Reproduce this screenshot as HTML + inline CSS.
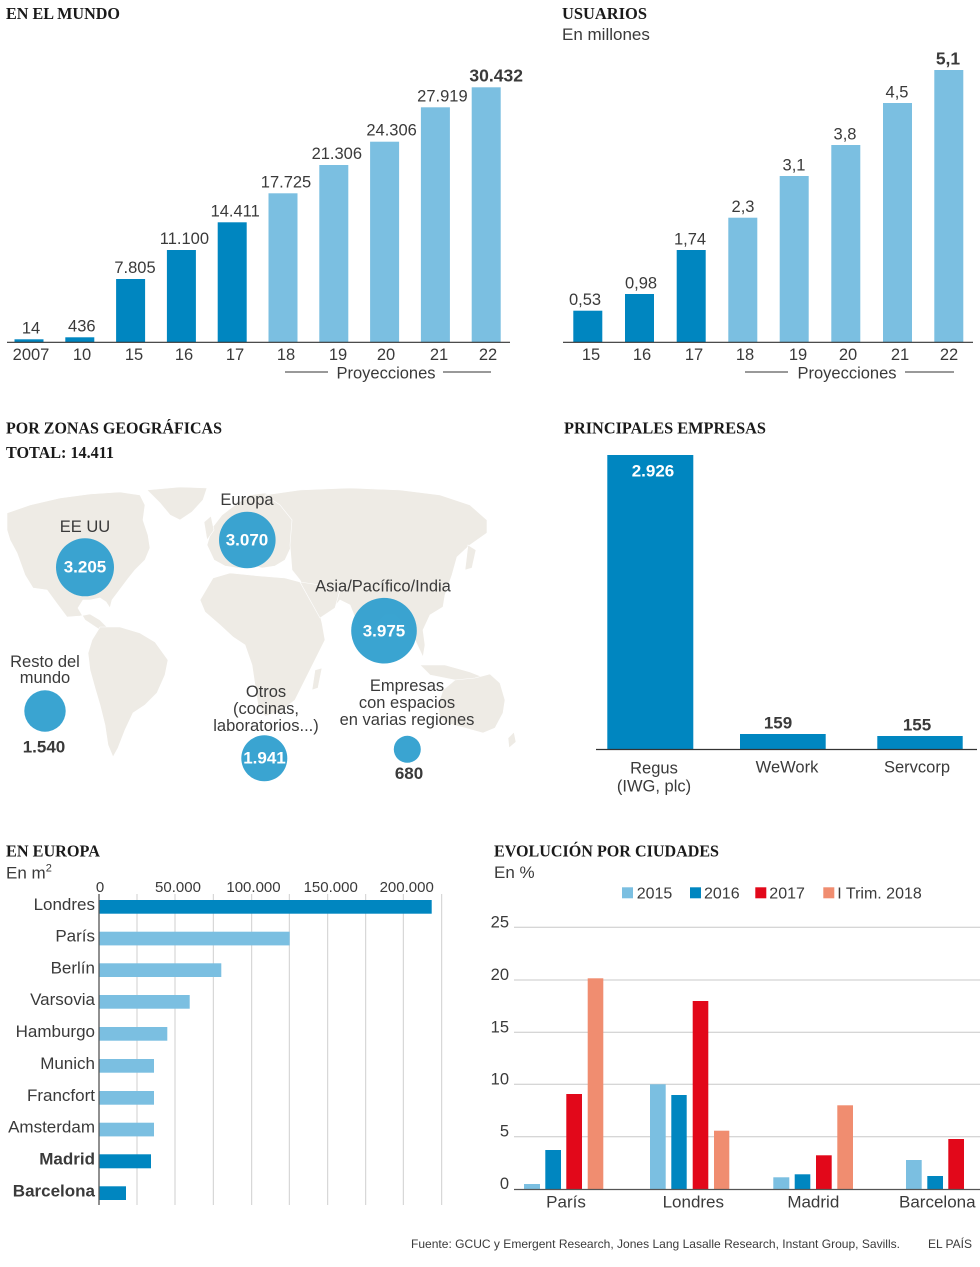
<!DOCTYPE html>
<html>
<head>
<meta charset="utf-8">
<style>
  html,body{margin:0;padding:0;background:#fff;}
  svg{display:block;}
  text{font-family:"Liberation Sans",Arial,sans-serif;fill:#3a3a3a;}
  .t{font-family:"Liberation Serif","Times New Roman",serif;font-weight:bold;fill:#1a1a1a;font-size:17px;}
  .v{font-size:16.5px;}
  .b{font-weight:bold;}
  .w{fill:#fff;font-weight:bold;font-size:17px;}
</style>
</head>
<body>
<svg width="980" height="1267" viewBox="0 0 980 1267" xmlns="http://www.w3.org/2000/svg">
<rect width="980" height="1267" fill="#fff"/>

<!-- ============ EN EL MUNDO ============ -->
<text class="t" x="6" y="19" textLength="114" lengthAdjust="spacingAndGlyphs">EN EL MUNDO</text>
<g>
  <rect x="14.5" y="339.3" width="29" height="2.7" fill="#0086c0"/>
  <rect x="65.3" y="337.3" width="29" height="4.7" fill="#0086c0"/>
  <rect x="116.1" y="279" width="29" height="63" fill="#0086c0"/>
  <rect x="166.9" y="250" width="29" height="92" fill="#0086c0"/>
  <rect x="217.7" y="222.3" width="29" height="119.7" fill="#0086c0"/>
  <rect x="268.5" y="193.3" width="29" height="148.7" fill="#7bbfe1"/>
  <rect x="319.3" y="165" width="29" height="177" fill="#7bbfe1"/>
  <rect x="370.1" y="141.7" width="29" height="200.3" fill="#7bbfe1"/>
  <rect x="420.9" y="107.3" width="29" height="234.7" fill="#7bbfe1"/>
  <rect x="471.7" y="87.3" width="29" height="254.7" fill="#7bbfe1"/>
</g>
<line x1="7" y1="342.3" x2="510" y2="342.3" stroke="#333" stroke-width="1.2"/>
<g class="v" text-anchor="middle">
  <text x="31" y="333.3">14</text>
  <text x="81.8" y="331.3">436</text>
  <text x="135" y="273">7.805</text>
  <text x="184.4" y="244">11.100</text>
  <text x="235.2" y="216.3">14.411</text>
  <text x="286" y="187.3">17.725</text>
  <text x="336.8" y="159">21.306</text>
  <text x="391.6" y="135.7">24.306</text>
  <text x="442.4" y="101.3">27.919</text>
  <text x="496.2" y="81.3" class="b" style="font-size:17.5px">30.432</text>
</g>
<g class="v" text-anchor="middle">
  <text x="31" y="360">2007</text>
  <text x="82" y="360">10</text>
  <text x="134" y="360">15</text>
  <text x="184" y="360">16</text>
  <text x="235" y="360">17</text>
  <text x="286" y="360">18</text>
  <text x="338" y="360">19</text>
  <text x="386" y="360">20</text>
  <text x="439" y="360">21</text>
  <text x="488" y="360">22</text>
  <text x="386" y="378.5">Proyecciones</text>
</g>
<line x1="285" y1="372" x2="328" y2="372" stroke="#333" stroke-width="1"/>
<line x1="443" y1="372" x2="491" y2="372" stroke="#333" stroke-width="1"/>

<!-- ============ USUARIOS ============ -->
<text class="t" x="562" y="19" textLength="85" lengthAdjust="spacingAndGlyphs">USUARIOS</text>
<text x="562" y="40" style="font-size:17px">En millones</text>
<g>
  <rect x="573.3" y="310.7" width="29" height="31.3" fill="#0086c0"/>
  <rect x="625" y="294" width="29" height="48" fill="#0086c0"/>
  <rect x="676.7" y="250" width="29" height="92" fill="#0086c0"/>
  <rect x="728.3" y="217.7" width="29" height="124.3" fill="#7bbfe1"/>
  <rect x="779.7" y="176" width="29" height="166" fill="#7bbfe1"/>
  <rect x="831.3" y="145" width="29" height="197" fill="#7bbfe1"/>
  <rect x="883" y="103" width="29" height="239" fill="#7bbfe1"/>
  <rect x="934.3" y="70" width="29" height="272" fill="#7bbfe1"/>
</g>
<line x1="563" y1="342.3" x2="973" y2="342.3" stroke="#333" stroke-width="1.2"/>
<g class="v" text-anchor="middle">
  <text x="585" y="305">0,53</text>
  <text x="641" y="288.3">0,98</text>
  <text x="690" y="244.3">1,74</text>
  <text x="743" y="212">2,3</text>
  <text x="794" y="170.3">3,1</text>
  <text x="845" y="139.3">3,8</text>
  <text x="897" y="97.3">4,5</text>
  <text x="948" y="64.3" class="b" style="font-size:17.5px">5,1</text>
</g>
<g class="v" text-anchor="middle">
  <text x="591" y="360">15</text>
  <text x="642" y="360">16</text>
  <text x="694" y="360">17</text>
  <text x="745" y="360">18</text>
  <text x="798" y="360">19</text>
  <text x="848" y="360">20</text>
  <text x="900" y="360">21</text>
  <text x="949" y="360">22</text>
  <text x="847" y="378.5">Proyecciones</text>
</g>
<line x1="745" y1="372" x2="788" y2="372" stroke="#333" stroke-width="1"/>
<line x1="905" y1="372" x2="954" y2="372" stroke="#333" stroke-width="1"/>

<!-- ============ POR ZONAS GEOGRÁFICAS ============ -->
<text class="t" x="6" y="433.3" textLength="216" lengthAdjust="spacingAndGlyphs">POR ZONAS GEOGRÁFICAS</text>
<text class="t" x="6" y="458" textLength="108" lengthAdjust="spacingAndGlyphs">TOTAL: 14.411</text>

<g fill="#eeebe5" stroke="#fff" stroke-width="0.6">
  <!-- North America -->
  <path d="M7,513 L30,505 L60,498 L90,494 L120,492 L140,495 L145,505 L143,520 L148,535 L150,548 L145,560 L135,570 L127,580 L118,592 L112,600 L110,608 L106,602 L100,598 L90,600 L83,600 L78,608 L85,620 L100,630 L108,628 L100,620 L90,614 L80,616 L67,617 L58,605 L47,590 L33,588 L25,575 L17,553 L10,540 L7,530 Z"/>
  <!-- Greenland -->
  <path d="M147,490 L180,487 L207,488 L203,500 L192,512 L180,520 L170,515 L160,503 Z"/>
  <!-- South America -->
  <path d="M100,627 L120,627 L140,633 L155,642 L168,660 L165,675 L157,693 L145,705 L133,713 L125,730 L118,748 L113,757 L108,745 L105,725 L100,705 L95,688 L90,670 L88,653 L92,640 Z"/>
  <!-- Europe -->
  <path d="M207,545 L212,528 L222,515 L235,505 L250,495 L265,493 L278,498 L290,508 L295,520 L292,545 L285,560 L275,566 L262,568 L250,565 L238,568 L225,566 L214,560 Z"/>
  <path d="M204,522 L211,516 L214,530 L207,540 Z"/>
  <!-- Asia -->
  <path d="M265,495 L300,490 L350,488 L400,490 L440,495 L470,505 L487,520 L487,533 L470,545 L457,557 L452,575 L445,595 L443,607 L430,615 L423,630 L425,645 L423,657 L415,640 L405,625 L395,615 L385,615 L375,625 L367,637 L358,625 L350,605 L340,600 L330,612 L315,605 L305,590 L300,580 L292,570 L290,545 L292,520 L280,505 Z"/>
  <!-- Africa -->
  <path d="M213,578 L230,573 L260,576 L285,578 L300,582 L310,600 L320,615 L322,623 L325,640 L315,660 L305,680 L295,700 L280,712 L265,716 L258,705 L255,685 L252,665 L245,645 L233,637 L220,625 L205,612 L200,600 Z"/>
  <!-- Arabia -->
  <path d="M300,582 L320,585 L340,590 L335,608 L320,618 L310,600 Z"/>
  <!-- Madagascar -->
  <path d="M315,670 L322,668 L318,688 L312,690 Z"/>
  <!-- Indonesia -->
  <path d="M420,665 L445,665 L470,672 L490,680 L480,685 L455,680 L430,675 Z"/>
  <!-- Japan -->
  <path d="M468,545 L476,550 L472,568 L465,570 Z"/>
  <!-- Australia -->
  <path d="M443,690 L455,680 L475,678 L490,674 L500,683 L505,700 L503,713 L495,728 L483,733 L465,728 L450,724 L440,718 L438,705 Z"/>
  <path d="M508,738 L514,732 L516,742 L509,748 Z"/>
</g>

<g fill="#2f9fcf" fill-opacity="0.95">
  <circle cx="85" cy="567.3" r="29"/>
  <circle cx="247.3" cy="540" r="28.3"/>
  <circle cx="384" cy="630.7" r="32.8"/>
  <circle cx="45" cy="711" r="20.7"/>
  <circle cx="264.3" cy="758.3" r="23"/>
  <circle cx="407.3" cy="749.3" r="13.5"/>
</g>
<g text-anchor="middle" style="font-size:16.5px">
  <text x="85" y="532">EE UU</text>
  <text x="247" y="505">Europa</text>
  <text x="383" y="591.7">Asia/Pacífico/India</text>
  <text x="45" y="667">Resto del</text>
  <text x="45" y="683">mundo</text>
  <text x="266" y="697">Otros</text>
  <text x="266" y="714">(cocinas,</text>
  <text x="266" y="731">laboratorios...)</text>
  <text x="407" y="691">Empresas</text>
  <text x="407" y="708">con espacios</text>
  <text x="407" y="725">en varias regiones</text>
  <text class="b" x="44" y="752.7" style="font-size:17px">1.540</text>
  <text class="b" x="409" y="779" style="font-size:17px">680</text>
  <text class="w" x="85" y="572.5">3.205</text>
  <text class="w" x="247" y="545.7">3.070</text>
  <text class="w" x="384" y="636.7">3.975</text>
  <text class="w" x="264.5" y="763.3">1.941</text>
</g>

<!-- ============ PRINCIPALES EMPRESAS ============ -->
<text class="t" x="564" y="433.3" textLength="202" lengthAdjust="spacingAndGlyphs">PRINCIPALES EMPRESAS</text>
<rect x="607.3" y="455" width="86" height="294.3" fill="#0086c0"/>
<rect x="740" y="734" width="85.7" height="15.3" fill="#0086c0"/>
<rect x="877.3" y="736" width="85.4" height="13.3" fill="#0086c0"/>
<line x1="596" y1="749.5" x2="977" y2="749.5" stroke="#333" stroke-width="1.2"/>
<g text-anchor="middle">
  <text class="w" x="653" y="476.7">2.926</text>
  <text class="b" x="778" y="728.3" style="font-size:17px">159</text>
  <text class="b" x="917" y="730.7" style="font-size:17px">155</text>
  <text x="654" y="773.3" style="font-size:16.5px">Regus</text>
  <text x="654" y="791.5" style="font-size:16.5px">(IWG, plc)</text>
  <text x="787" y="772.7" style="font-size:16.5px">WeWork</text>
  <text x="917" y="772.7" style="font-size:16.5px">Servcorp</text>
</g>

<!-- ============ EN EUROPA ============ -->
<text class="t" x="6" y="856.7" textLength="94" lengthAdjust="spacingAndGlyphs">EN EUROPA</text>
<text x="6" y="878.3" style="font-size:17px">En m<tspan dy="-7" style="font-size:11px">2</tspan></text>
<g stroke="#cfcfcf" stroke-width="1">
  <line x1="137" y1="894" x2="137" y2="1205"/>
  <line x1="175" y1="894" x2="175" y2="1205"/>
  <line x1="213.3" y1="894" x2="213.3" y2="1205"/>
  <line x1="251.7" y1="894" x2="251.7" y2="1205"/>
  <line x1="289.3" y1="894" x2="289.3" y2="1205"/>
  <line x1="327.7" y1="894" x2="327.7" y2="1205"/>
  <line x1="365.7" y1="894" x2="365.7" y2="1205"/>
  <line x1="403.3" y1="894" x2="403.3" y2="1205"/>
  <line x1="441.7" y1="894" x2="441.7" y2="1205"/>
</g>
<g text-anchor="middle" style="font-size:15px">
  <text x="100" y="892">0</text>
  <text x="178" y="892">50.000</text>
  <text x="253.5" y="892">100.000</text>
  <text x="330.7" y="892">150.000</text>
  <text x="406.7" y="892">200.000</text>
</g>
<g>
  <rect x="99" y="900" width="332.7" height="13.7" fill="#0086c0"/>
  <rect x="99" y="931.7" width="190.7" height="13.7" fill="#7bbfe1"/>
  <rect x="99" y="963.3" width="122.3" height="13.7" fill="#7bbfe1"/>
  <rect x="99" y="995" width="90.7" height="13.7" fill="#7bbfe1"/>
  <rect x="99" y="1027" width="68.3" height="13.7" fill="#7bbfe1"/>
  <rect x="99" y="1059" width="55" height="13.7" fill="#7bbfe1"/>
  <rect x="99" y="1091" width="55" height="13.7" fill="#7bbfe1"/>
  <rect x="99" y="1122.7" width="55" height="13.7" fill="#7bbfe1"/>
  <rect x="99" y="1154.3" width="52" height="14" fill="#0086c0"/>
  <rect x="99" y="1186.3" width="27" height="13.7" fill="#0086c0"/>
</g>
<line x1="99" y1="894" x2="99" y2="1205" stroke="#555" stroke-width="1.3"/>
<g text-anchor="end" style="font-size:17px">
  <text x="95" y="910">Londres</text>
  <text x="95" y="941.7">París</text>
  <text x="95" y="973.3">Berlín</text>
  <text x="95" y="1005">Varsovia</text>
  <text x="95" y="1037">Hamburgo</text>
  <text x="95" y="1069">Munich</text>
  <text x="95" y="1101">Francfort</text>
  <text x="95" y="1132.7">Amsterdam</text>
  <text x="95" y="1164.5" class="b">Madrid</text>
  <text x="95" y="1196.5" class="b">Barcelona</text>
</g>

<!-- ============ EVOLUCIÓN POR CIUDADES ============ -->
<text class="t" x="494" y="856.7" textLength="225" lengthAdjust="spacingAndGlyphs">EVOLUCIÓN POR CIUDADES</text>
<text x="494" y="878" style="font-size:17px">En %</text>
<g style="font-size:16px">
  <rect x="622" y="887.3" width="11" height="11" fill="#7bbfe1"/>
  <text x="636.7" y="898.3">2015</text>
  <rect x="690" y="887.3" width="11" height="11" fill="#0086c0"/>
  <text x="704" y="898.3">2016</text>
  <rect x="755.3" y="887.3" width="11" height="11" fill="#e2081a"/>
  <text x="769.3" y="898.3">2017</text>
  <rect x="823.3" y="887.3" width="11" height="11" fill="#f08d70"/>
  <text x="837.3" y="898.3">I Trim. 2018</text>
</g>
<g stroke="#c8c8c8" stroke-width="1">
  <line x1="514" y1="927.3" x2="980" y2="927.3"/>
  <line x1="514" y1="980" x2="980" y2="980"/>
  <line x1="514" y1="1032.3" x2="980" y2="1032.3"/>
  <line x1="514" y1="1084.3" x2="980" y2="1084.3"/>
  <line x1="514" y1="1136.7" x2="980" y2="1136.7"/>
</g>
<g text-anchor="end" style="font-size:16.5px">
  <text x="509" y="927.3">25</text>
  <text x="509" y="980">20</text>
  <text x="509" y="1032.3">15</text>
  <text x="509" y="1084.3">10</text>
  <text x="509" y="1136.7">5</text>
  <text x="509" y="1189">0</text>
</g>
<g>
  <!-- París -->
  <rect x="524" y="1184" width="16" height="5" fill="#7bbfe1"/>
  <rect x="545.3" y="1150" width="15.7" height="39" fill="#0086c0"/>
  <rect x="566.3" y="1094" width="15.7" height="95" fill="#e2081a"/>
  <rect x="587.7" y="978.3" width="15.6" height="210.7" fill="#f08d70"/>
  <!-- Londres -->
  <rect x="650" y="1084.3" width="15.7" height="104.7" fill="#7bbfe1"/>
  <rect x="671.3" y="1095" width="15.4" height="94" fill="#0086c0"/>
  <rect x="692.7" y="1001" width="15.6" height="188" fill="#e2081a"/>
  <rect x="714" y="1130.7" width="15.3" height="58.3" fill="#f08d70"/>
  <!-- Madrid -->
  <rect x="773.3" y="1177.3" width="16" height="11.7" fill="#7bbfe1"/>
  <rect x="794.7" y="1174.3" width="15.6" height="14.7" fill="#0086c0"/>
  <rect x="816" y="1155.3" width="15.7" height="33.7" fill="#e2081a"/>
  <rect x="837.3" y="1105.3" width="15.7" height="83.7" fill="#f08d70"/>
  <!-- Barcelona -->
  <rect x="906" y="1160" width="15.7" height="29" fill="#7bbfe1"/>
  <rect x="927.3" y="1176" width="15.7" height="13" fill="#0086c0"/>
  <rect x="948.3" y="1139" width="15.7" height="50" fill="#e2081a"/>
</g>
<line x1="514" y1="1189.5" x2="980" y2="1189.5" stroke="#555" stroke-width="1.2"/>
<g text-anchor="middle" style="font-size:17px">
  <text x="566" y="1207.3">París</text>
  <text x="693.3" y="1207.3">Londres</text>
  <text x="813.3" y="1207.3">Madrid</text>
  <text x="937.3" y="1207.3">Barcelona</text>
</g>

<!-- ============ FOOTER ============ -->
<text x="411" y="1248" style="font-size:12px" textLength="489" lengthAdjust="spacingAndGlyphs">Fuente: GCUC y Emergent Research, Jones Lang Lasalle Research, Instant Group, Savills.</text>
<text x="928" y="1248" style="font-size:12px" textLength="44" lengthAdjust="spacingAndGlyphs">EL PAÍS</text>
</svg>
</body>
</html>
